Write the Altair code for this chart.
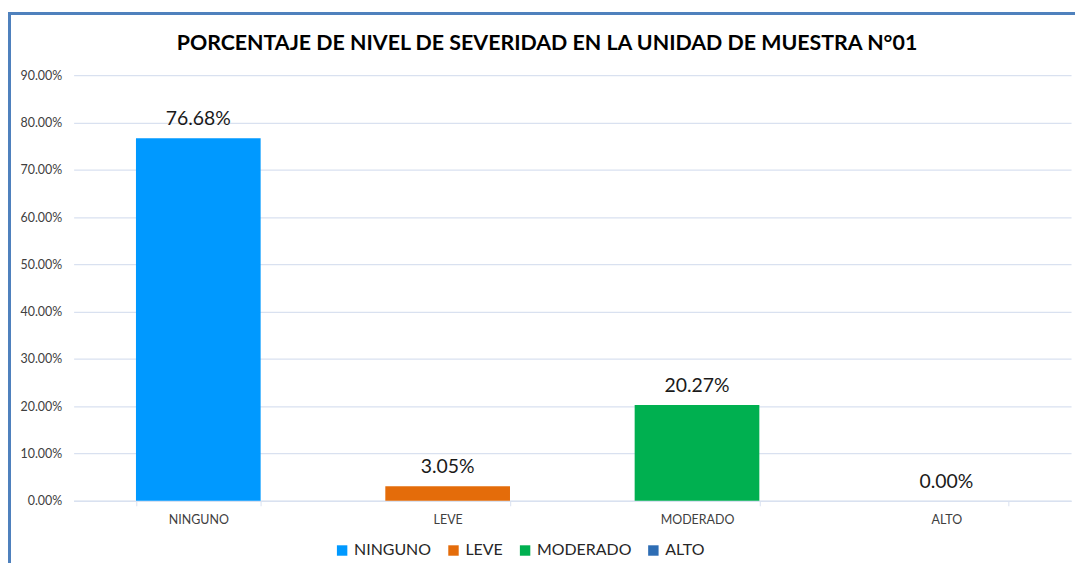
import altair as alt
import pandas as pd

categorias = ["NINGUNO", "LEVE", "MODERADO", "ALTO"]
porcentajes = [0.7668, 0.0305, 0.2027, 0.0]
colores = ["#0099FF", "#E46C0A", "#00B050", "#2E6DB4"]
y_ticks = [0.0, 0.1, 0.2, 0.3, 0.4, 0.5, 0.6, 0.7, 0.8, 0.9]
titulo = ["PORCENTAJE DE NIVEL DE SEVERIDAD EN LA UNIDAD DE MUESTRA N°01"]

df = pd.DataFrame({"nivel": categorias, "pct": porcentajes})
df_title = pd.DataFrame({"t": titulo})

FONT = "Lato"
GRID = "#D9E1F0"

x_enc = alt.X("nivel:N", sort=categorias, title=None,
              scale=alt.Scale(paddingInner=0.5, paddingOuter=0.25),
              axis=alt.Axis(labelAngle=0, labelFont=FONT, labelFontSize=12.5,
                            labelColor="#404040", domainColor=GRID, tickColor=GRID,
                            tickSize=5, tickBand="extent", labelPadding=8,
                            domainWidth=1.5))
y_enc = alt.Y("pct:Q", title=None,
              scale=alt.Scale(domain=[0, 0.9], nice=False),
              axis=alt.Axis(values=y_ticks, format=".2%", labelFont=FONT,
                            labelFontSize=12.5, labelColor="#404040", domain=False,
                            ticks=False, gridColor=GRID, gridWidth=1.2,
                            labelPadding=12))

bars = alt.Chart(df).mark_bar().encode(
    x=x_enc,
    y=y_enc,
    color=alt.Color("nivel:N", sort=categorias,
                    scale=alt.Scale(domain=categorias, range=colores),
                    legend=alt.Legend(title=None, orient="none", direction="horizontal",
                                      legendX=262, legendY=470, symbolType="square",
                                      symbolSize=110, symbolStrokeWidth=0,
                                      labelFont=FONT, labelFontSize=16,
                                      labelColor="#262626", columnPadding=14,
                                      labelOffset=4)),
)

labels = alt.Chart(df).mark_text(baseline="bottom", dy=-9, font=FONT,
                                 fontSize=19.5, color="#1a1a1a").encode(
    x=alt.X("nivel:N", sort=categorias),
    y="pct:Q",
    text=alt.Text("pct:Q", format=".2%"),
)

frame = alt.Chart(df).mark_rect(filled=False, stroke="#4F81BD", strokeWidth=3,
                                clip=False).encode(
    x=alt.value(-64.5), x2=alt.value(1040),
    y=alt.value(-62), y2=alt.value(600),
)

title = alt.Chart(df_title).mark_text(font=FONT, fontSize=21.5, fontWeight="bold",
                                      color="#000000", align="center",
                                      baseline="middle").encode(
    x=alt.value(476), y=alt.value(-31), text="t:N",
)

chart = alt.layer(frame, bars, labels, title).properties(
    width=1003, height=428,
    padding={"left": 66, "top": 66, "right": 4, "bottom": 61},
    autosize=alt.AutoSizeParams(type="none"),
).configure_view(stroke=None)

chart.save("out.html", embed_options={"renderer": "svg", "actions": False})
